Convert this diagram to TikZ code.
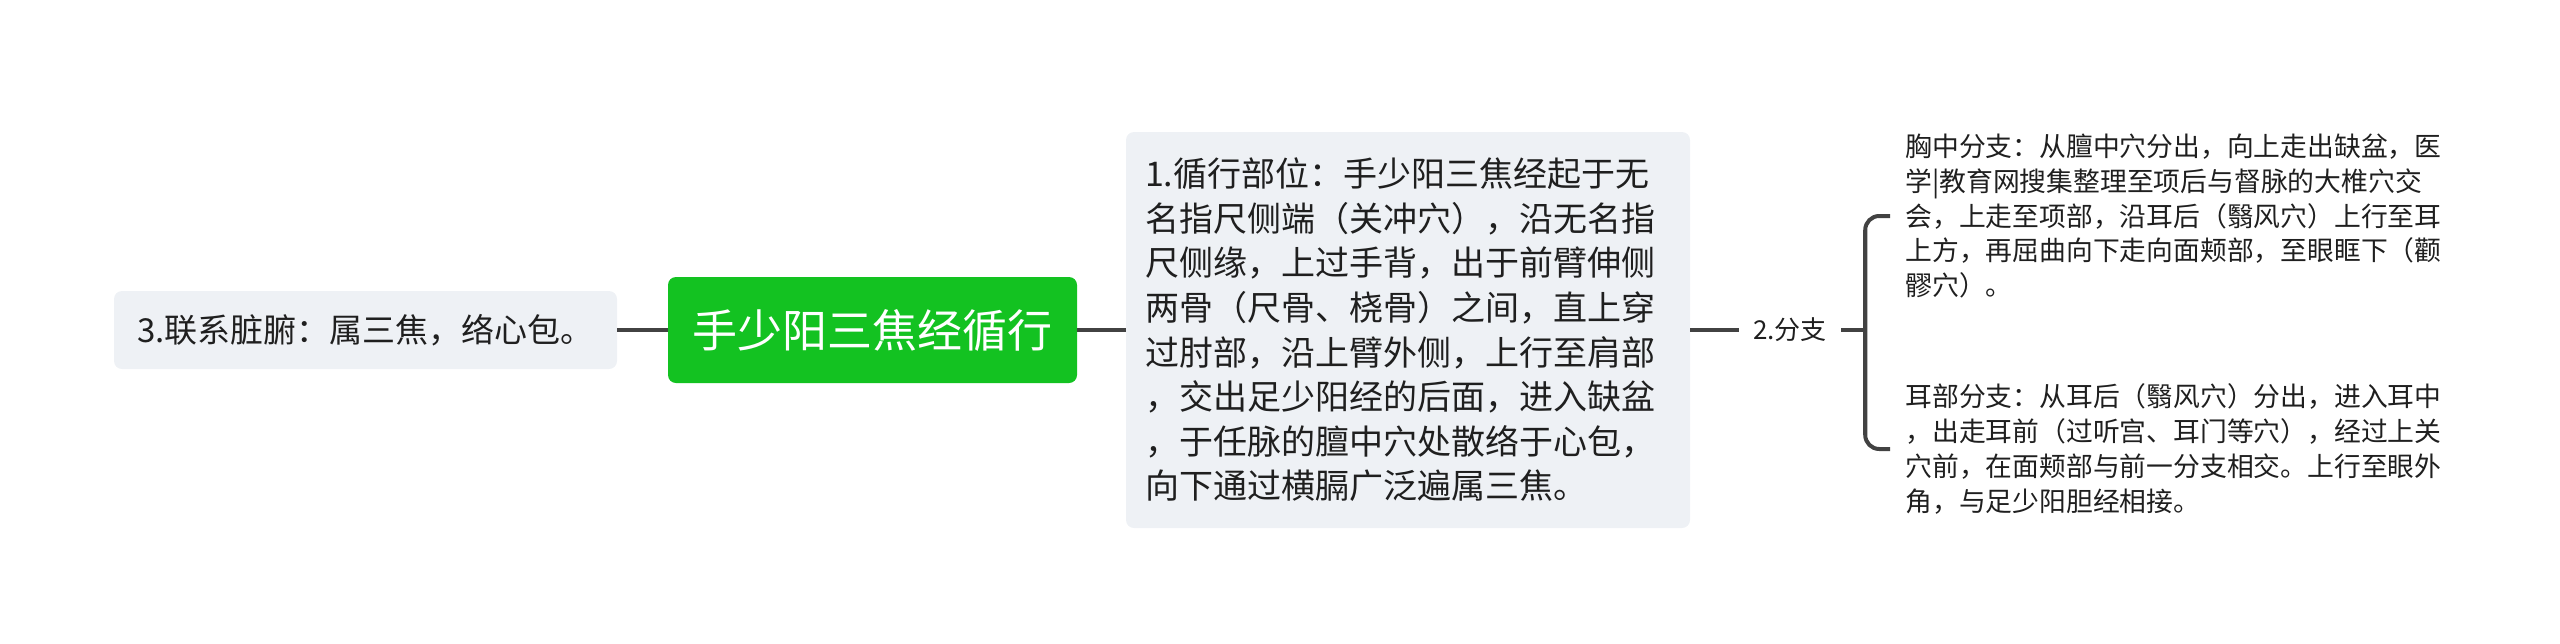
\documentclass[tikz,border=0pt]{standalone}
\usepackage{fontspec}
\setmainfont{Noto Sans CJK SC}
\definecolor{boxfill}{HTML}{EEF1F5}
\definecolor{rootgreen}{HTML}{13C221}
\definecolor{linecol}{HTML}{424242}
\definecolor{txt}{HTML}{1F1F1F}
\begin{document}
\begin{tikzpicture}[x=0.5pt,y=-0.5pt,
  conn/.style={draw=linecol,line width=2pt},
  greybox/.style={fill=boxfill,rounded corners=4pt,text=txt,inner ysep=0pt},
  rootbox/.style={fill=rootgreen,rounded corners=4pt,text=white,inner ysep=0pt},
  plain/.style={text=txt,inner ysep=0pt}]
\useasboundingbox (0,0) rectangle (2560,643);
\node[greybox,minimum width=251.5pt,minimum height=39pt,font=\fontsize{16.5pt}{20pt}\selectfont] (left) at (365.5,330) {3.联系脏腑：属三焦，络心包。};
\node[rootbox,minimum width=204.5pt,minimum height=53pt,font=\fontsize{22.5pt}{27pt}\selectfont] (root) at (872.5,330) {手少阳三焦经循行};
\node[greybox,minimum width=282pt,minimum height=198pt,inner xsep=9.5pt,text width=263pt,align=left,font=\fontsize{17pt}{22.3pt}\selectfont] (n1) at (1408,330) {1.循行部位：手少阳三焦经起于无\\名指尺侧端（关冲穴），沿无名指\\尺侧缘，上过手背，出于前臂伸侧\\两骨（尺骨、桡骨）之间，直上穿\\过肘部，沿上臂外侧，上行至肩部\\，交出足少阳经的后面，进入缺盆\\，于任脉的膻中穴处散络于心包，\\向下通过横膈广泛遍属三焦。};
\node[plain,inner xsep=7pt,font=\fontsize{13pt}{16pt}\selectfont] (two) at (1790,330) {2.分支};
\node[plain,anchor=west,inner xsep=7.5pt,align=left,font=\fontsize{13.4pt}{17.4pt}\selectfont] (chest) at (1890,216) {胸中分支：从膻中穴分出，向上走出缺盆，医\\学|教育网搜集整理至项后与督脉的大椎穴交\\会，上走至项部，沿耳后（翳风穴）上行至耳\\上方，再屈曲向下走向面颊部，至眼眶下（颧\\髎穴）。};
\node[plain,anchor=west,inner xsep=7.5pt,align=left,font=\fontsize{13.4pt}{17.4pt}\selectfont] (ear) at (1890,449) {耳部分支：从耳后（翳风穴）分出，进入耳中\\，出走耳前（过听宫、耳门等穴），经过上关\\穴前，在面颊部与前一分支相交。上行至眼外\\角，与足少阳胆经相接。};
\draw[conn] (left.east) -- (root.west);
\draw[conn] (root.east) -- (n1.west);
\draw[conn] (n1.east) -- (two.west);
\draw[conn] (two.east) -- ++(12pt,0) coordinate (j);
\draw[conn,rounded corners=7pt] (chest.west) -| (j) |- (ear.west);
\end{tikzpicture}
\end{document}
